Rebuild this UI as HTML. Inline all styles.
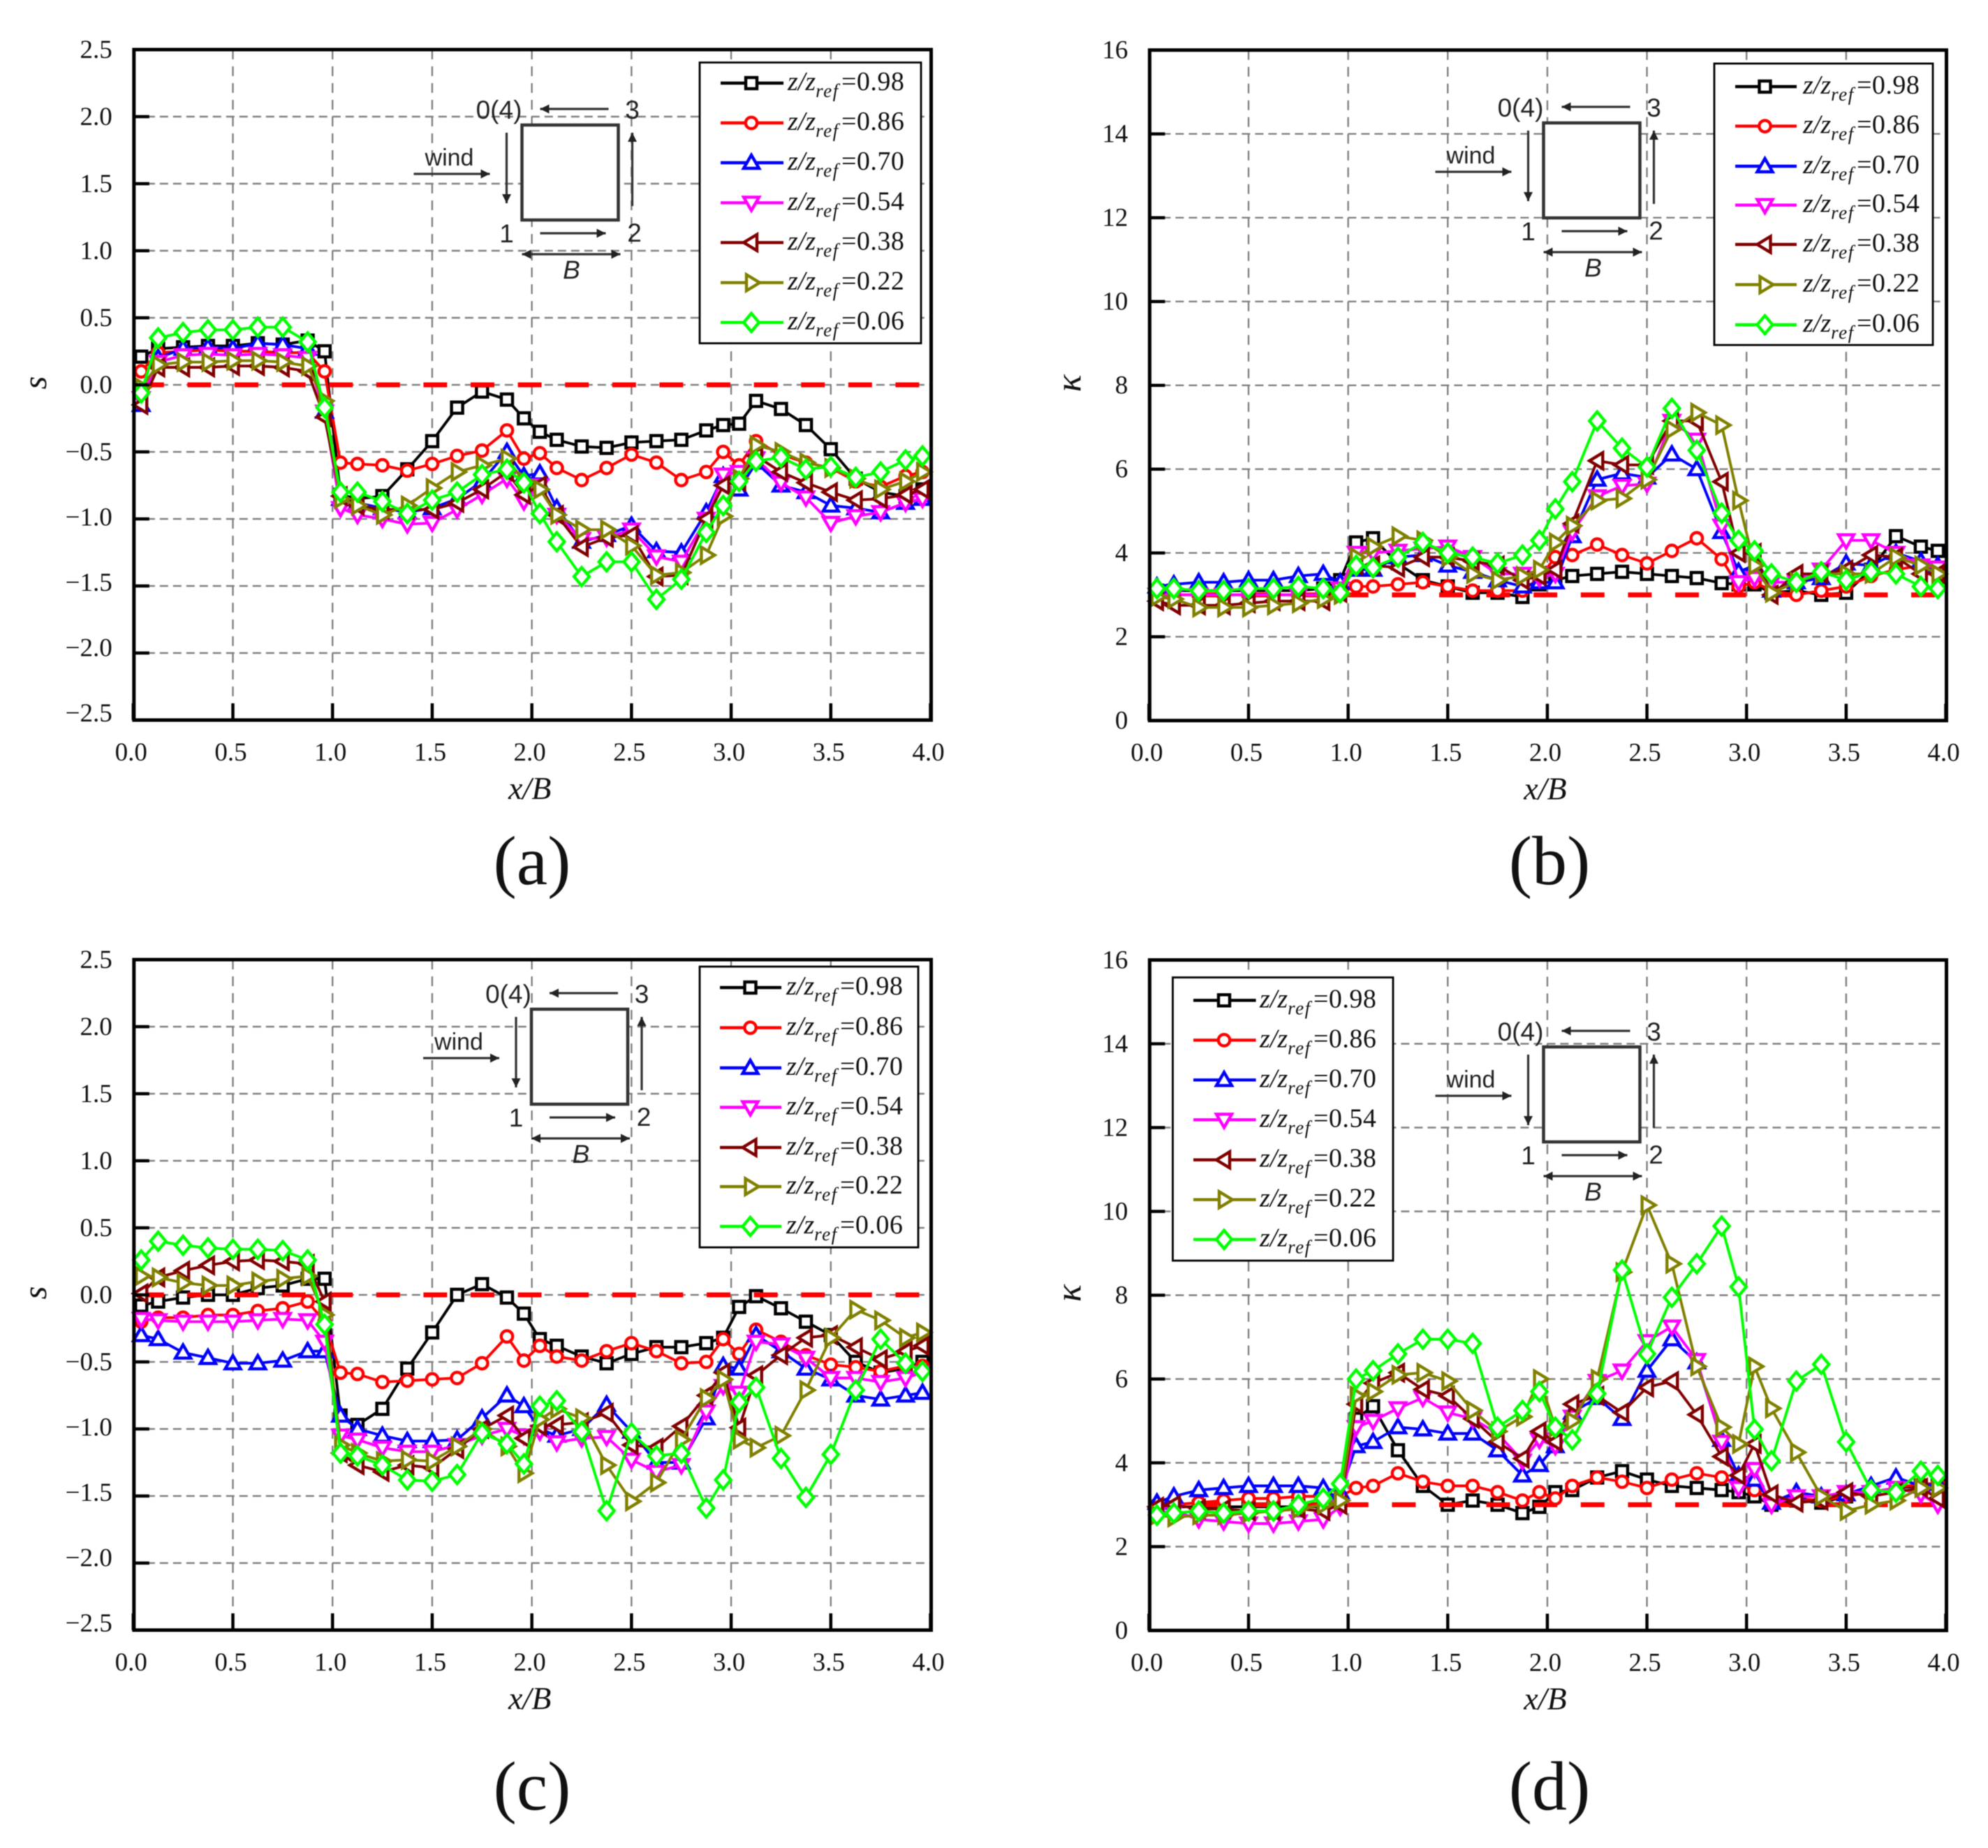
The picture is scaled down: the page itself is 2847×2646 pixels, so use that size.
<!DOCTYPE html>
<html lang="en">
<head>
<meta charset="utf-8">
<title>Wind pressure skewness and kurtosis charts</title>
<style>
html,body{margin:0;padding:0;background:#fff;}
svg{display:block;filter:blur(0.6px);}
text{font-family:"Liberation Serif",serif;fill:#111;}
.sans{font-family:"Liberation Sans",sans-serif;fill:#222;}
</style>
</head>
<body>
<svg id="figure" xmlns="http://www.w3.org/2000/svg" width="2847" height="2646" viewBox="0 0 2847 2646"></svg>
<script>
// ---------- Shared data ----------
const xValues = [0.04,0.125,0.25,0.375,0.5,0.625,0.75,0.875,0.96,
  1.04,1.125,1.25,1.375,1.5,1.625,1.75,1.875,
  1.96,2.04,2.125,2.25,2.375,2.5,2.625,2.75,2.875,
  2.96,3.04,3.125,3.25,3.375,3.5,3.625,3.75,3.875,3.96];
const heightLabels = ['0.98','0.86','0.70','0.54','0.38','0.22','0.06'];
const xTickLabels = ['0.0','0.5','1.0','1.5','2.0','2.5','3.0','3.5','4.0'];
const skewTickLabels = ['2.5','2.0','1.5','1.0','0.5','0.0','\u22120.5','\u22121.0','\u22121.5','\u22122.0','\u22122.5'];
const kurtTickLabels = ['16','14','12','10','8','6','4','2','0'];

// ---------- Panel (a) skewness ----------
const aZ098 = [0.21,0.27,0.28,0.29,0.29,0.31,0.30,0.33,0.25, -0.82,-0.85,-0.83,-0.63,-0.42,-0.17,-0.05,-0.11, -0.25,-0.35,-0.41,-0.46,-0.47,-0.43,-0.42,-0.41,-0.34, -0.30,-0.29,-0.12,-0.18,-0.30,-0.48,-0.70,-0.80,-0.83,-0.78];
const aZ086 = [0.1,0.24,0.25,0.26,0.25,0.25,0.24,0.24,0.1, -0.58,-0.59,-0.6,-0.64,-0.59,-0.53,-0.49,-0.34, -0.55,-0.51,-0.62,-0.71,-0.62,-0.52,-0.58,-0.71,-0.65, -0.50,-0.60,-0.42,-0.52,-0.58,-0.62,-0.72,-0.76,-0.68,-0.65];
const aZ070 = [-0.15,0.2,0.27,0.28,0.27,0.31,0.30,0.27,-0.2, -0.85,-0.88,-0.92,-0.95,-0.92,-0.85,-0.72,-0.5, -0.68,-0.66,-0.92,-1.17,-1.12,-1.05,-1.24,-1.25,-0.95, -0.68,-0.78,-0.58,-0.75,-0.8,-0.9,-0.92,-0.95,-0.88,-0.85];
const aZ054 = [-0.1,0.17,0.22,0.23,0.22,0.23,0.22,0.2,-0.2, -0.92,-0.97,-1.0,-1.04,-1.03,-0.93,-0.82,-0.7, -0.87,-0.75,-0.97,-1.15,-1.14,-1.08,-1.28,-1.32,-1.0, -0.67,-0.65,-0.55,-0.73,-0.84,-1.03,-0.98,-0.95,-0.88,-0.85];
const aZ038 = [-0.15,0.13,0.13,0.13,0.14,0.14,0.13,0.1,-0.24, -0.83,-0.9,-0.93,-0.93,-0.93,-0.88,-0.78,-0.65, -0.82,-0.75,-0.97,-1.21,-1.14,-1.12,-1.43,-1.42,-1.0, -0.75,-0.72,-0.53,-0.65,-0.73,-0.8,-0.86,-0.85,-0.82,-0.78];
const aZ022 = [-0.02,0.15,0.17,0.17,0.18,0.18,0.17,0.14,-0.12, -0.85,-0.9,-0.97,-0.9,-0.77,-0.65,-0.6,-0.55, -0.72,-0.78,-0.97,-1.08,-1.08,-1.2,-1.42,-1.4,-1.27, -0.98,-0.7,-0.45,-0.5,-0.58,-0.62,-0.7,-0.78,-0.72,-0.65];
const aZ006 = [-0.06,0.35,0.39,0.41,0.41,0.43,0.43,0.32,-0.17, -0.8,-0.8,-0.87,-0.96,-0.86,-0.8,-0.67,-0.63, -0.73,-0.96,-1.17,-1.43,-1.32,-1.32,-1.6,-1.45,-1.1, -0.9,-0.72,-0.57,-0.54,-0.63,-0.61,-0.69,-0.65,-0.56,-0.53];

// ---------- Panel (b) kurtosis ----------
const bZ098 = [3.1,3.1,3.1,3.1,3.1,3.1,3.1,3.15,3.35, 4.25,4.35,3.75,3.35,3.2,3.05,3.05,2.95, 3.25,3.35,3.45,3.5,3.55,3.5,3.45,3.4,3.28, 3.25,3.25,3.05,3.1,3.0,3.05,3.6,4.4,4.15,4.05];
const bZ086 = [3,3,3,3,3,3,3,3,3.05, 3.2,3.2,3.25,3.3,3.2,3.1,3.1,3.1, 3.4,3.9,3.95,4.2,3.95,3.75,4.05,4.35,3.85, 3.2,3.3,3.1,3.0,3.1,3.2,3.45,3.6,3.7,3.5];
const bZ070 = [3.2,3.25,3.3,3.3,3.35,3.35,3.45,3.5,3.3, 3.6,3.6,3.9,3.95,3.7,3.55,3.35,3.2, 3.3,3.3,4.4,5.75,5.9,5.8,6.35,6.0,4.5, 3.55,3.7,3.1,3.3,3.4,3.75,3.7,4.0,3.8,3.7];
const bZ054 = [3,3,3,3,3,3,3,3.0,3.15, 4.0,4.0,4.05,4.1,4.15,3.9,3.5,3.5, 3.4,3.5,4.5,5.35,5.6,5.65,7.15,6.7,4.65, 3.3,3.4,3.3,3.3,3.6,4.3,4.3,4.0,3.7,3.65];
const bZ038 = [2.85,2.75,2.75,2.75,2.8,2.85,2.85,2.85,3.05, 3.7,3.7,3.65,3.9,3.9,3.8,3.7,3.35, 3.45,3.6,4.7,6.2,6.1,6.1,7.15,7.15,5.7, 4.0,4.0,3.0,3.5,3.5,3.6,3.95,3.9,3.5,3.5];
const bZ022 = [2.95,2.9,2.7,2.7,2.7,2.75,2.8,2.9,3.0, 3.9,4.15,4.4,4.3,3.9,3.5,3.35,3.45, 3.6,4.25,4.65,5.25,5.3,5.75,6.95,7.35,7.05, 5.25,3.7,3.05,3.3,3.5,3.5,3.5,3.9,3.7,3.5];
const bZ006 = [3.15,3.15,3.1,3.1,3.15,3.15,3.2,3.15,3.05, 3.7,3.65,3.9,4.25,4.0,3.9,3.75,3.95, 4.3,5.05,5.7,7.15,6.5,6.05,7.45,6.45,4.95, 4.3,4.05,3.5,3.3,3.55,3.35,3.55,3.5,3.2,3.15];

// ---------- Panel (c) skewness ----------
const cZ098 = [-0.08,-0.05,-0.02,0,0,0.05,0.07,0.12,0.12, -0.9,-0.97,-0.85,-0.55,-0.28,0,0.08,-0.02, -0.14,-0.33,-0.38,-0.46,-0.51,-0.44,-0.39,-0.39,-0.36, -0.32,-0.09,-0.01,-0.1,-0.2,-0.3,-0.5,-0.58,-0.55,-0.5];
const cZ086 = [-0.2,-0.17,-0.17,-0.15,-0.15,-0.12,-0.1,-0.05,-0.2, -0.58,-0.59,-0.65,-0.64,-0.63,-0.62,-0.51,-0.31, -0.49,-0.38,-0.46,-0.49,-0.42,-0.36,-0.42,-0.51,-0.5, -0.33,-0.44,-0.26,-0.35,-0.45,-0.52,-0.54,-0.57,-0.53,-0.53];
const cZ070 = [-0.3,-0.33,-0.43,-0.47,-0.51,-0.51,-0.49,-0.42,-0.42, -0.9,-1.0,-1.05,-1.09,-1.09,-1.08,-0.92,-0.75, -0.83,-1.0,-1.05,-1.0,-0.82,-1.02,-1.25,-1.25,-0.92, -0.53,-0.55,-0.3,-0.42,-0.55,-0.63,-0.75,-0.78,-0.75,-0.73];
const cZ054 = [-0.18,-0.19,-0.2,-0.2,-0.2,-0.19,-0.18,-0.19,-0.35, -1.05,-1.08,-1.14,-1.17,-1.17,-1.12,-1.05,-1.0, -1.05,-1.02,-1.1,-1.07,-1.06,-1.23,-1.32,-1.27,-0.87, -0.68,-0.73,-0.35,-0.37,-0.47,-0.62,-0.62,-0.65,-0.62,-0.58];
const cZ038 = [0.01,0.13,0.18,0.22,0.25,0.26,0.25,0.23,-0.05, -1.18,-1.27,-1.32,-1.27,-1.29,-1.15,-1.0,-0.9, -1.07,-0.98,-0.97,-0.95,-0.88,-1.12,-1.14,-0.98,-0.75, -0.58,-0.99,-0.6,-0.45,-0.32,-0.3,-0.39,-0.48,-0.42,-0.38];
const cZ022 = [0.14,0.13,0.09,0.07,0.07,0.1,0.12,0.14,-0.15, -1.12,-1.18,-1.24,-1.23,-1.24,-1.13,-1.0,-1.13, -1.33,-0.93,-0.85,-0.92,-1.27,-1.54,-1.4,-1.08,-0.77, -0.63,-1.08,-1.14,-1.05,-0.71,-0.32,-0.11,-0.19,-0.32,-0.28];
const cZ006 = [0.26,0.4,0.37,0.35,0.34,0.34,0.33,0.26,-0.22, -1.18,-1.2,-1.27,-1.38,-1.39,-1.34,-1.03,-1.11, -1.26,-0.83,-0.79,-1.02,-1.61,-1.03,-1.2,-1.18,-1.59, -1.38,-0.8,-0.69,-1.22,-1.51,-1.19,-0.71,-0.33,-0.51,-0.57];

// ---------- Panel (d) kurtosis ----------
const dZ098 = [2.95,2.95,2.95,2.95,2.95,2.95,2.95,2.95,3.1, 5.05,5.35,4.3,3.45,3.0,3.1,3.0,2.8, 2.95,3.3,3.35,3.65,3.8,3.6,3.45,3.4,3.35, 3.3,3.2,3.0,3.1,3.05,3.2,3.3,3.4,3.45,3.5];
const dZ086 = [3,3,3.05,3.1,3.15,3.15,3.2,3.2,3.2, 3.4,3.45,3.75,3.55,3.45,3.45,3.3,3.1, 3.3,3.15,3.45,3.65,3.55,3.4,3.6,3.75,3.65, 3.5,3.35,3.1,3.15,3.1,3.2,3.3,3.4,3.5,3.5];
const dZ070 = [3.05,3.2,3.35,3.4,3.45,3.45,3.45,3.4,3.3, 4.4,4.5,4.85,4.8,4.7,4.7,4.3,3.7, 3.95,4.4,5.2,5.55,5.05,6.2,6.95,6.4,4.55, 3.7,3.6,3.05,3.3,3.2,3.25,3.45,3.65,3.45,3.5];
const dZ054 = [2.8,2.85,2.65,2.6,2.55,2.55,2.6,2.65,2.95, 4.85,5.0,5.3,5.55,5.2,5.05,4.7,4.05, 4.55,4.4,5.1,5.95,6.2,6.9,7.25,6.45,4.5, 3.4,3.85,3.0,3.2,3.2,3.3,3.3,3.4,3.25,3.0];
const dZ038 = [2.95,3.0,2.9,2.9,2.85,2.85,2.9,2.85,3.0, 5.4,5.9,6.15,5.75,5.6,5.05,4.5,4.1, 4.75,4.5,5.4,5.6,5.2,5.8,5.95,5.15,4.15, 3.7,4.45,3.25,3.05,3.1,3.3,3.2,3.3,3.4,3.15];
const dZ022 = [2.75,2.7,2.75,2.75,2.8,2.85,2.9,3.0,3.1, 5.6,5.7,6.1,6.15,5.95,5.25,4.75,5.1, 6.0,4.85,5.0,6.0,8.55,10.15,8.75,6.3,4.85, 4.45,6.3,5.3,4.25,3.2,2.85,3.0,3.1,3.4,3.4];
const dZ006 = [2.75,2.8,2.85,2.8,2.85,2.85,3.0,3.15,3.5, 6.0,6.2,6.6,6.95,6.95,6.85,4.85,5.25, 5.7,4.85,4.55,5.65,8.6,6.6,7.95,8.75,9.65, 8.2,4.8,4.05,5.95,6.35,4.5,3.35,3.3,3.8,3.7];

const colors = ['#000000','#ff0000','#0000ff','#ff00ff','#800000','#808000','#00ff00'];
const shapes = ['square','circle','up','down','left','right','diamond'];

const panels = [
  {id:'a',caption:'(a)',series:[aZ098,aZ086,aZ070,aZ054,aZ038,aZ022,aZ006],yTitle:'s',ticks:skewTickLabels,titleDx:-125,
   x0:190.8,x1:1332.5,yTop:71,yBot:1031,yMax:2.5,yMin:-2.5,ref:0,step:0.5,
   legend:{x:1002,y:89.5,w:317,h:402,lx0:1032,lx1:1122,mx:1076,tx:1128,ly:[119,176,233,290.3,347.3,404.7,461.7]},
   inset:[747.5,179],capX:762,capY:1266},
  {id:'b',caption:'(b)',series:[bZ098,bZ086,bZ070,bZ054,bZ038,bZ022,bZ006],yTitle:'\u03BA',ticks:kurtTickLabels,titleDx:-98,
   x0:1645.4,x1:2786.5,yTop:71.7,yBot:1031.7,yMax:16,yMin:0,ref:3,step:2,
   legend:{x:2455,y:91,w:313,h:403,lx0:2485,lx1:2573,mx:2527.5,tx:2582,ly:[124,180.6,238,293.7,350,407.6,465]},
   inset:[2210.5,176],capX:2219,capY:1266},
  {id:'c',caption:'(c)',series:[cZ098,cZ086,cZ070,cZ054,cZ038,cZ022,cZ006],yTitle:'s',ticks:skewTickLabels,titleDx:-125,
   x0:190.8,x1:1332.5,yTop:1374,yBot:2334,yMax:2.5,yMin:-2.5,ref:0,step:0.5,
   legend:{x:1002,y:1384,w:313,h:402,lx0:1031,lx1:1119,mx:1074.5,tx:1126,ly:[1414,1471.5,1529,1585.5,1643,1699,1756]},
   inset:[761,1445],capX:762,capY:2591},
  {id:'d',caption:'(d)',series:[dZ098,dZ086,dZ070,dZ054,dZ038,dZ022,dZ006],yTitle:'\u03BA',ticks:kurtTickLabels,titleDx:-98,
   x0:1645.4,x1:2786.5,yTop:1374.5,yBot:2334.5,yMax:16,yMin:0,ref:3,step:2,
   legend:{x:1679.5,y:1399.5,w:315.5,h:405.5,lx0:1709,lx1:1798.6,mx:1753,tx:1804,ly:[1432.3,1489.3,1546.3,1603.3,1660.7,1717.7,1774.7]},
   inset:[2210.5,1499],capX:2219,capY:2591}
];

const NS = 'http://www.w3.org/2000/svg';
const root = document.getElementById('figure');

function make(tag, attrs, parent, text) {
  const node = document.createElementNS(NS, tag);
  for (const k in attrs) node.setAttribute(k, attrs[k]);
  if (text !== undefined) node.textContent = text;
  (parent || root).appendChild(node);
  return node;
}

function drawMarker(shape, color, cx, cy, parent) {
  const style = {fill:'#fff',stroke:color,'stroke-width':4.4,'stroke-linejoin':'miter'};
  let m;
  if (shape === 'square') {
    m = make('rect', Object.assign({x:cx-8,y:cy-8,width:16,height:16}, style), parent);
  } else if (shape === 'circle') {
    m = make('circle', Object.assign({cx:cx,cy:cy,r:8.2}, style), parent);
  } else {
    const pts = {
      up:[[0,-11],[11,8],[-11,8]],
      down:[[-11,-8],[11,-8],[0,11]],
      left:[[-11,0],[8,-11.5],[8,11.5]],
      right:[[-7,-11.5],[12,0],[-7,11.5]],
      diamond:[[0,-13],[11,0],[0,13],[-11,0]]
    }[shape].map(p => (cx+p[0])+','+(cy+p[1])).join(' ');
    m = make('polygon', Object.assign({points:pts}, style), parent);
  }
  return m;
}

function arrow(g, x1, y1, x2, y2, name, both) {
  const line = make('line', {x1:x1,y1:y1,x2:x2,y2:y2,stroke:'#333','stroke-width':3.2}, g);
  
  
  const len = Math.hypot(x2-x1,y2-y1), ux=(x2-x1)/len, uy=(y2-y1)/len;
  const head = (px,py,dx,dy) => make('polygon', {fill:'#222',
    points:[[px,py],[px-dx*13-dy*6.5,py-dy*13+dx*6.5],[px-dx*13+dy*6.5,py-dy*13-dx*6.5]].map(p=>p.join(',')).join(' ')}, g);
  head(x2,y2,ux,uy);
  if (both) head(x1,y1,-ux,-uy);
}

function drawInset(p) {
  const sx = p.inset[0], sy = p.inset[1];
  const g = make('g', {});
  
  
  const box = make('rect', {x:sx,y:sy,width:138,height:136,fill:'#fff',stroke:'#333','stroke-width':4.5}, g);
  
  
  arrow(g, sx+124, sy-23, sx+26, sy-23, 'arrow-face-3', false);
  arrow(g, sx-22, sy+11, sx-22, sy+112, 'arrow-face-0', false);
  arrow(g, sx+26, sy+155, sx+120, sy+155, 'arrow-face-1', false);
  arrow(g, sx+158, sy+116, sx+158, sy+11, 'arrow-face-2', false);
  arrow(g, sx-155, sy+70, sx-46, sy+70, 'wind-arrow', false);
  arrow(g, sx, sy+185, sx+141, sy+185, 'width-dimension-arrow', true);
  const labels = [
    ['0(4)',sx-33,sy-9,37,'normal','face-label-0-4'],
    ['3',sx+158,sy-9,37,'normal','face-label-3'],
    ['1',sx-22,sy+168,37,'normal','face-label-1'],
    ['2',sx+161,sy+167,37,'normal','face-label-2'],
    ['wind',sx-104,sy+58,34,'normal','wind-label'],
    ['B',sx+71,sy+220,37,'italic','width-label-b']
  ];
  labels.forEach(l => {
    const t = make('text', {x:l[1],y:l[2],'font-size':l[3],'font-style':l[4],'text-anchor':'middle','class':'sans'}, g, l[0]);
    
    
  });
}

function drawLegend(p) {
  const L = p.legend;
  const g = make('g', {});
  
  
  make('rect', {x:L.x,y:L.y,width:L.w,height:L.h,fill:'#fff',stroke:'#000','stroke-width':2.8}, g);
  heightLabels.forEach((label, i) => {
    const e = make('g', {}, g);
    
    
    const y = L.ly[i];
    make('line', {x1:L.lx0,y1:y,x2:L.lx1,y2:y,stroke:colors[i],'stroke-width':4.4}, e);
    drawMarker(shapes[i], colors[i], L.mx, y, e);
    const t = make('text', {x:L.tx,y:y+10,'font-size':38}, e);
    make('tspan', {'font-style':'italic'}, t, 'z/z');
    make('tspan', {'font-style':'italic','font-size':27,dy:10,'letter-spacing':1.5}, t, 'ref');
    make('tspan', {x:L.tx+77,dy:-10,'letter-spacing':0.5}, t, '=' + label);
  });
}

function drawPanel(p) {
  const sx = v => p.x0 + (v / 4) * (p.x1 - p.x0);
  const sy = v => p.yBot - (v - p.yMin) / (p.yMax - p.yMin) * (p.yBot - p.yTop);

  const group = make('g', {});
  
  

  // grid
  const grid = make('g', {stroke:'#808080','stroke-width':2.4,fill:'none'}, group);
  
  
  xTickLabels.forEach(lbl => {
    const v = parseFloat(lbl);
    if (v > 0 && v < 4) make('line', {x1:sx(v),x2:sx(v),y1:p.yTop,y2:p.yBot,'stroke-dasharray':'14 10'}, grid);
  });
  p.ticks.forEach(lbl => {
    const v = parseFloat(lbl.replace('\u2212','-'));
    if (v > p.yMin && v < p.yMax) make('line', {x1:p.x0,x2:p.x1,y1:sy(v),y2:sy(v),'stroke-dasharray':'12 7'}, grid);
  });

  // series lines + markers, reference dashed line after first series
  const plot = make('g', {}, group);
  
  
  p.series.forEach((vals, i) => {
    const g = make('g', {}, plot);
    
    
    const pts = vals.map((v, k) => sx(xValues[k]).toFixed(1) + ',' + sy(v).toFixed(1)).join(' ');
    make('polyline', {points:pts,fill:'none',stroke:colors[i],'stroke-width':3.9,'stroke-linejoin':'round'}, g);
    vals.forEach((v, k) => {
      const m = drawMarker(shapes[i], colors[i], sx(xValues[k]), sy(v), g);
      
      
    });
    if (i === 0) {
      const ref = make('line', {x1:p.x0+10,x2:p.x1-12,y1:sy(p.ref),y2:sy(p.ref),stroke:'#ff0000','stroke-width':7,'stroke-dasharray':'34 33.6'}, plot);
      
      
    }
  });

  // axes frame & ticks
  const frame = make('rect', {x:p.x0+1,y:p.yTop,width:p.x1-p.x0,height:p.yBot-p.yTop,fill:'none',stroke:'#000','stroke-width':5}, group);
  
  

  const xAxis = make('g', {}, group);
  
  
  xTickLabels.forEach(lbl => {
    const v = parseFloat(lbl);
    make('line', {x1:sx(v),x2:sx(v),y1:p.yBot,y2:p.yBot-24,stroke:'#000','stroke-width':4.5}, xAxis);
    const t = make('text', {x:sx(v)-3,y:p.yBot+58,'font-size':37,'text-anchor':'middle'}, xAxis, lbl);
    
    
  });
  const yAxis = make('g', {}, group);
  
  
  p.ticks.forEach(lbl => {
    const v = parseFloat(lbl.replace('\u2212','-'));
    make('line', {x1:p.x0,x2:p.x0+23,y1:sy(v),y2:sy(v),stroke:'#000','stroke-width':4.5}, yAxis);
    const drift = (p.yMin < 0 && v < -0.5) ? (-v - 0.5) * 5 : 0;
    const t = make('text', {x:p.x0-30,y:sy(v)+12-drift,'font-size':37,'text-anchor':'end'}, yAxis, lbl);
    
    
  });

  const xt = make('text', {x:(p.x0+p.x1)/2-3,y:p.yBot+113,'font-size':46,'font-style':'italic','text-anchor':'middle'}, group, 'x/B');
  
  
  const tx = p.x0 + p.titleDx, ty = (p.yTop + p.yBot) / 2 - 3;
  const yt = make('text', {x:tx,y:ty,'font-size':p.yTitle === 's' ? 48 : 52,'font-style':'italic','text-anchor':'middle',transform:'rotate(-90 '+tx+' '+ty+')'}, group, p.yTitle);
  
  

  const cap = make('text', {x:p.capX,y:p.capY,'font-size':100,'text-anchor':'middle'}, group, p.caption);
  
  

  drawInset(p);
  drawLegend(p);
}

panels.forEach(drawPanel);
</script>
</body>
</html>
